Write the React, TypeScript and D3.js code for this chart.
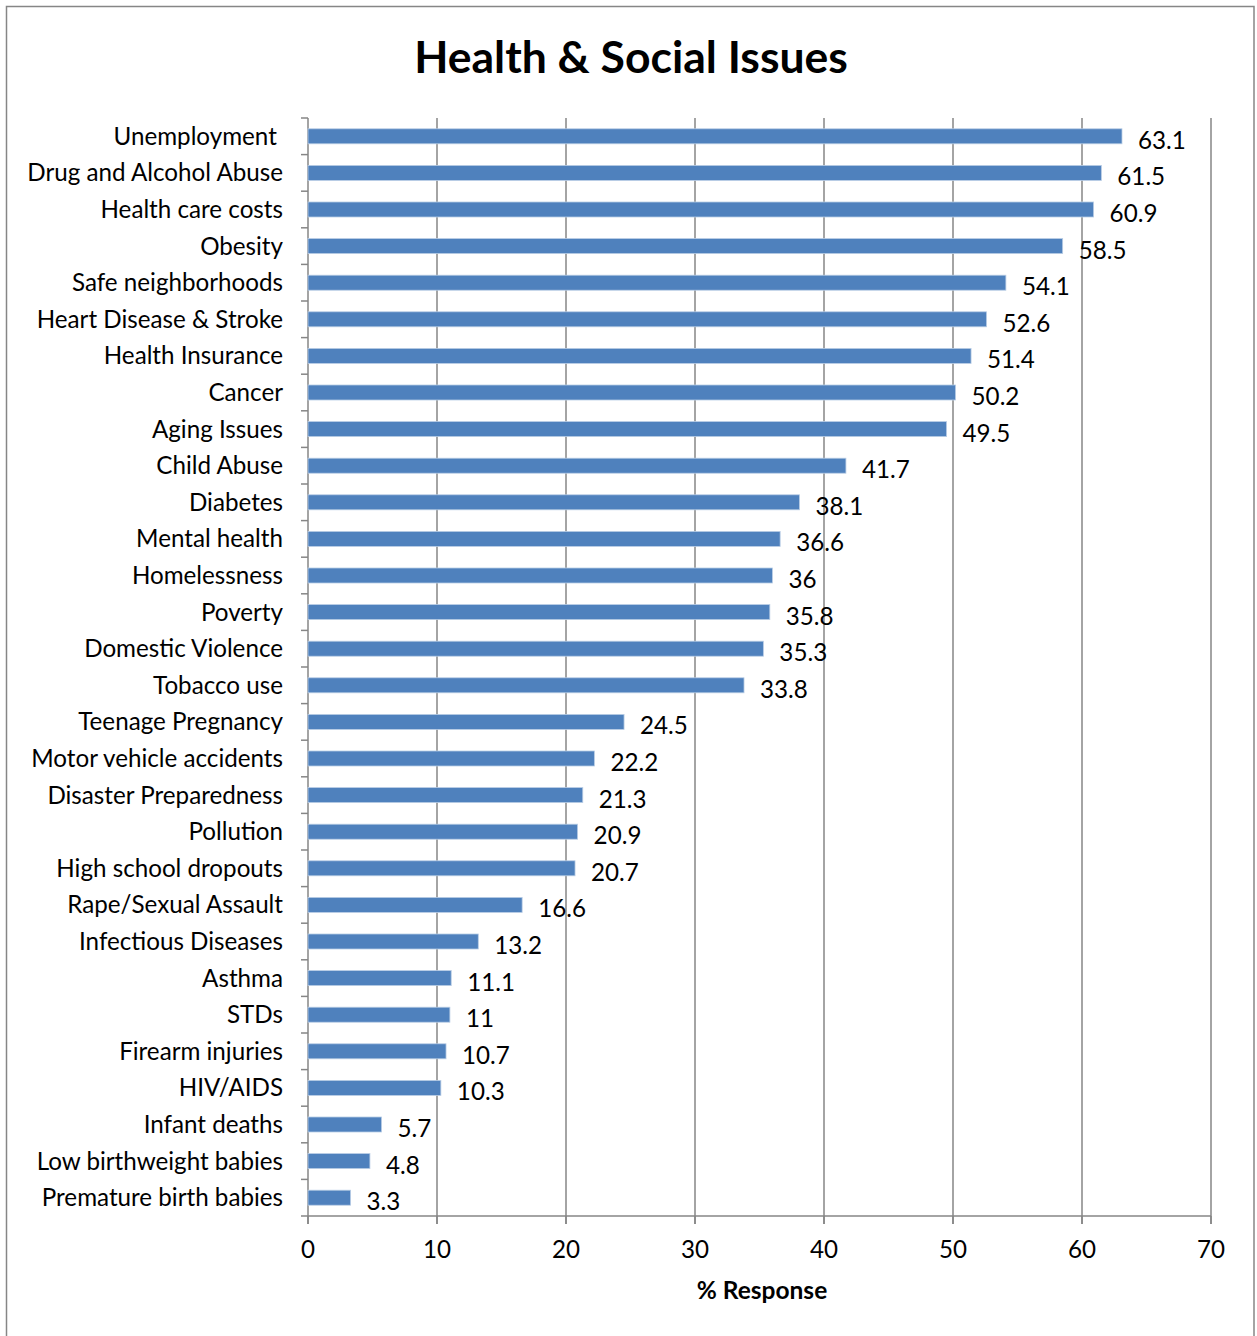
import React from "react";
import * as d3 from "d3";

const categories = [
  "Unemployment ", "Drug and Alcohol Abuse", "Health care costs", "Obesity",
  "Safe neighborhoods", "Heart Disease & Stroke", "Health Insurance", "Cancer",
  "Aging Issues", "Child Abuse", "Diabetes", "Mental health", "Homelessness",
  "Poverty", "Domestic Violence", "Tobacco use", "Teenage Pregnancy",
  "Motor vehicle accidents", "Disaster Preparedness", "Pollution",
  "High school dropouts", "Rape/Sexual Assault", "Infectious Diseases",
  "Asthma", "STDs", "Firearm injuries", "HIV/AIDS", "Infant deaths",
  "Low birthweight babies", "Premature birth babies",
];
const values = [
  63.1, 61.5, 60.9, 58.5, 54.1, 52.6, 51.4, 50.2, 49.5, 41.7, 38.1, 36.6, 36,
  35.8, 35.3, 33.8, 24.5, 22.2, 21.3, 20.9, 20.7, 16.6, 13.2, 11.1, 11, 10.7,
  10.3, 5.7, 4.8, 3.3,
];
const xTicks = [0, 10, 20, 30, 40, 50, 60, 70];
const title = "Health & Social Issues";
const xTitle = "% Response";

const W = 1257;
const H = 1336;
const left = 308;
const right = 1211;
const top = 118;
const bottom = 1216;
const FONT = "Lato, 'Open Sans', sans-serif";
const GRID = "#868686";
const FS = 24.2;

export default function App() {
  const x = d3.scaleLinear().domain([0, 70]).range([left, right]);
  const y = d3.scaleBand<string>().domain(categories).range([top, bottom]).paddingInner(0.59).paddingOuter(0.295);
  const band = d3.scaleBand<string>().domain(categories).range([top, bottom]);
  return (
    <svg
      width={W}
      height={H}
      style={{ position: "absolute", left: 0, top: 0, background: "#fff" }}
      fontFamily={FONT}
    >
      <rect x={6.5} y={6.5} width={1247.5} height={H + 10} fill="#fff" stroke={GRID} strokeWidth={1.5} />
      <text x={631} y={73} textAnchor="middle" fontSize={44.5} fontWeight="bold" fill="#000">
        {title}
      </text>
      {xTicks.slice(1).map((t) => (
        <line key={"g" + t} x1={x(t)} x2={x(t)} y1={top} y2={bottom + 8} stroke={GRID} strokeWidth={1.5} />
      ))}
      <line x1={left} x2={left} y1={top} y2={bottom + 8} stroke={GRID} strokeWidth={1.5} />
      {categories.map((c) => (
        <line key={"yt" + c} x1={left - 7} x2={left} y1={band(c)!} y2={band(c)!} stroke={GRID} strokeWidth={1.5} />
      ))}
      <line x1={left - 7} x2={left} y1={bottom} y2={bottom} stroke={GRID} strokeWidth={1.5} />
      <line x1={left} x2={right} y1={bottom} y2={bottom} stroke={GRID} strokeWidth={1.5} />
      {xTicks.map((t) => (
        <g key={"xt" + t}>
          <line x1={x(t)} x2={x(t)} y1={bottom} y2={bottom + 8} stroke={GRID} strokeWidth={1.5} />
          <text x={x(t)} y={1258} textAnchor="middle" fontSize={FS} fill="#000">
            {t}
          </text>
        </g>
      ))}
      {categories.map((c, i) => (
        <rect
          key={"b" + c}
          x={x(0)}
          y={y(c)!}
          width={x(values[i]) - x(0)}
          height={y.bandwidth()}
          fill="#4F81BD"
          stroke="#B9CDE5"
          strokeWidth={0.8}
        />
      ))}
      {categories.map((c) => (
        <text
          key={"l" + c}
          x={283}
          y={band(c)! + band.bandwidth() / 2}
          dy="0.35em"
          textAnchor="end"
          fontSize={FS}
          fill="#000"
          style={{ whiteSpace: "pre" }}
        >
          {c}
        </text>
      ))}
      {categories.map((c, i) => (
        <text
          key={"v" + c}
          x={x(values[i]) + 16}
          y={band(c)! + band.bandwidth() / 2 + 4}
          dy="0.35em"
          fontSize={FS}
          fill="#000"
        >
          {values[i]}
        </text>
      ))}
      <text x={762} y={1299} textAnchor="middle" fontSize={24.5} fontWeight="bold" fill="#000">
        {xTitle}
      </text>
    </svg>
  );
}
